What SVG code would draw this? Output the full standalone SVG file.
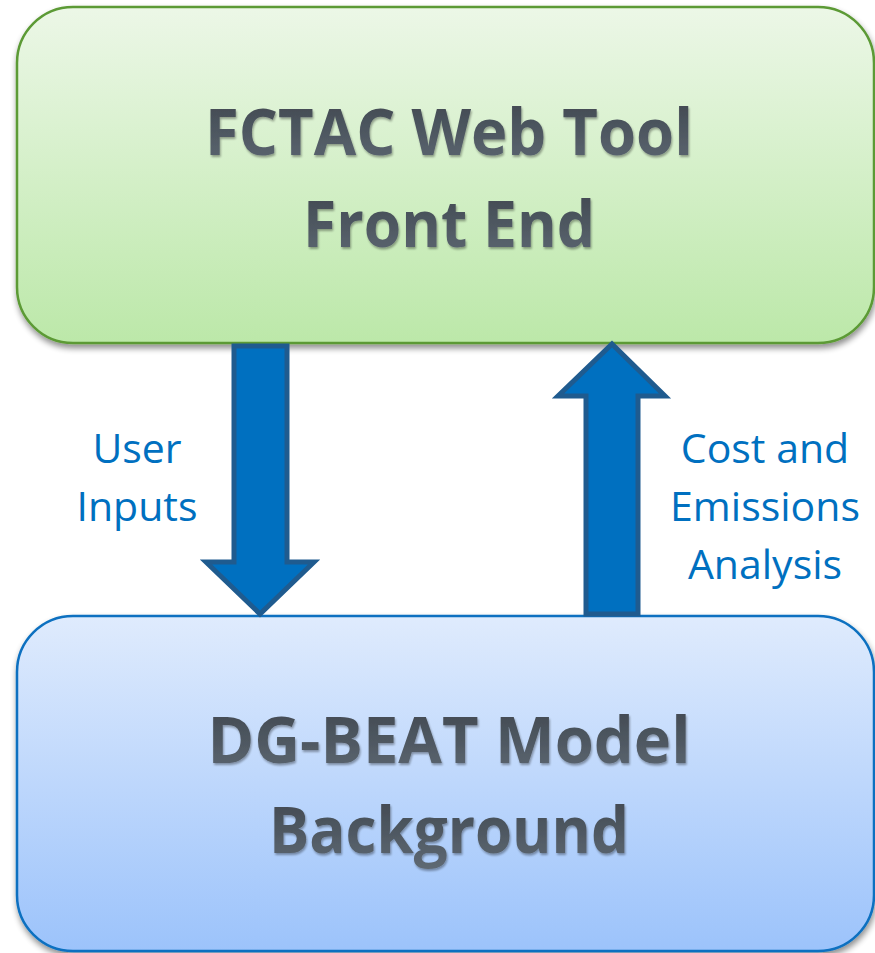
<svg xmlns="http://www.w3.org/2000/svg" width="875" height="953" viewBox="0 0 875 953">
<defs>
<linearGradient id="gGreen" x1="0" y1="0" x2="0" y2="1">
<stop offset="0" stop-color="#ecf7e7"/>
<stop offset="1" stop-color="#bce8a9"/>
</linearGradient>
<linearGradient id="gBlue" x1="0" y1="0" x2="0" y2="1">
<stop offset="0" stop-color="#dfebfd"/>
<stop offset="1" stop-color="#9cc3fb"/>
</linearGradient>
<linearGradient id="gText" x1="0" y1="0" x2="0" y2="1">
<stop offset="0" stop-color="#3c434b"/>
<stop offset="1" stop-color="#5f6a75"/>
</linearGradient>
<filter id="shadow" x="-10%" y="-10%" width="120%" height="130%">
<feGaussianBlur in="SourceAlpha" stdDeviation="3"/>
<feOffset dx="1" dy="4" result="b"/>
<feComponentTransfer><feFuncA type="linear" slope="0.45"/></feComponentTransfer>
<feMerge><feMergeNode/><feMergeNode in="SourceGraphic"/></feMerge>
</filter>
<filter id="tshadow" x="-5%" y="-10%" width="110%" height="130%">
<feGaussianBlur in="SourceAlpha" stdDeviation="1.2"/>
<feOffset dx="1" dy="2"/>
<feComponentTransfer><feFuncA type="linear" slope="0.35"/></feComponentTransfer>
<feMerge><feMergeNode/><feMergeNode in="SourceGraphic"/></feMerge>
</filter>
</defs>
<style>
.title{font-family:"Open Sans","Liberation Sans",sans-serif;font-weight:bold;font-size:65px;fill:url(#gText);text-anchor:middle}
.lbl{font-family:"Open Sans","Liberation Sans",sans-serif;font-size:41px;fill:#0070c0;text-anchor:middle}
.arrow{fill:#0070c0;stroke:#1f5b8f;stroke-width:5;stroke-linejoin:miter}
</style>
<g id="front-end">
<rect x="17" y="7" width="857" height="336" rx="56" ry="56" fill="url(#gGreen)" stroke="#5b9a35" stroke-width="2.5" filter="url(#shadow)"/>
<g filter="url(#tshadow)">
<text class="title" x="449" y="155" textLength="488" lengthAdjust="spacingAndGlyphs">FCTAC Web Tool</text>
<text class="title" x="449" y="247" textLength="292" lengthAdjust="spacingAndGlyphs">Front End</text>
</g>
</g>
<g id="model">
<rect x="17" y="616" width="857" height="335" rx="56" ry="56" fill="url(#gBlue)" stroke="#0a70c0" stroke-width="2.5" filter="url(#shadow)"/>
<g filter="url(#tshadow)">
<text class="title" x="449" y="763" textLength="483" lengthAdjust="spacingAndGlyphs">DG-BEAT Model</text>
<text class="title" x="449" y="853" textLength="360" lengthAdjust="spacingAndGlyphs">Background</text>
</g>
</g>
<g id="connectors">
<polygon class="arrow" points="234,346 287,346 287,562 314,562 260,614 206,562 234,562"/>
<polygon class="arrow" points="612,344 665,396 638,396 638,614 586,614 586,396 558,396"/>
<text class="lbl" x="137" y="463">User</text>
<text class="lbl" x="137" y="521">Inputs</text>
<text class="lbl" x="765" y="463">Cost and</text>
<text class="lbl" x="765" y="521">Emissions</text>
<text class="lbl" x="765" y="579">Analysis</text>
</g>
</svg>
